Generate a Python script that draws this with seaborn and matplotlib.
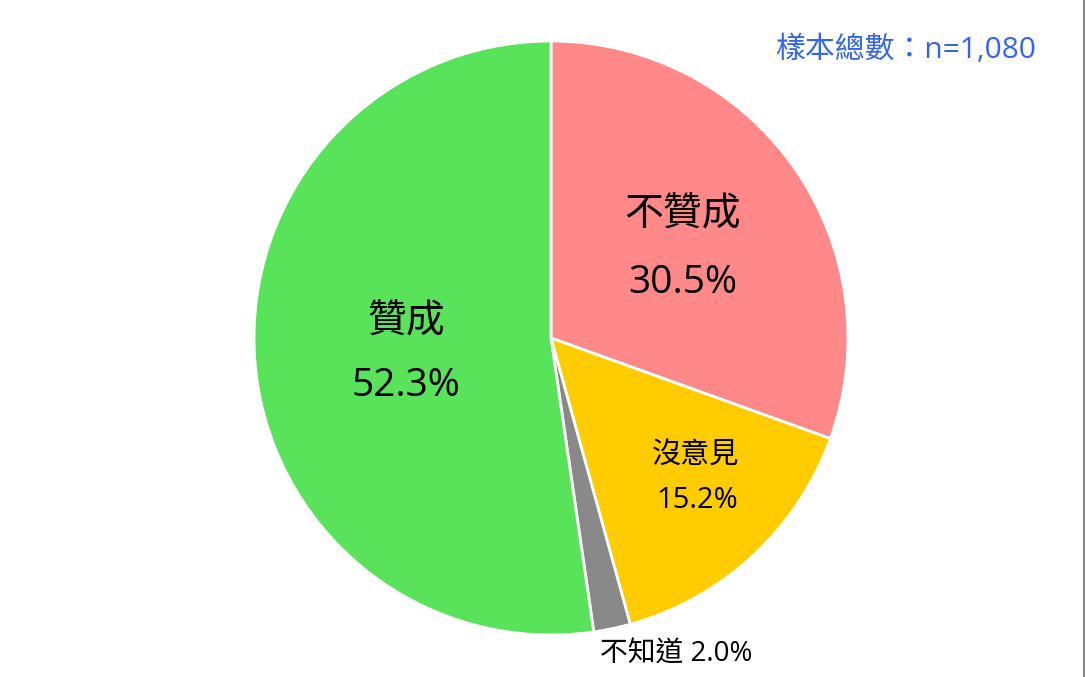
import matplotlib
matplotlib.use("Agg")
import matplotlib.pyplot as plt
import seaborn as sns

# ---- Style ----
sns.set_theme(style="white")
plt.rcParams["font.family"] = ["Open Sans", "Noto Sans CJK TC", "DejaVu Sans"]

# ---- Data (clockwise from 12 o'clock) ----
labels = ["不贊成", "沒意見", "不知道", "贊成"]
shares = [30.5, 15.2, 2.0, 52.3]
colors = ["#FF8888", "#FFCC00", "#898989", "#58E35A"]
sample_note = "樣本總數：n=1,080"

fig = plt.figure(figsize=(10.86, 6.77), dpi=100)
ax = fig.add_axes([0, 0, 1, 1])

center = (551, 677 - 338)
radius = 297

ax.pie(
    shares,
    colors=colors,
    startangle=90,
    counterclock=False,
    center=center,
    radius=radius,
    wedgeprops={"edgecolor": "white", "linewidth": 2},
    frame=True,
)
ax.set_xlim(0, 1086)
ax.set_ylim(0, 677)
ax.set_aspect("equal")
ax.axis("off")

# ---- Labels ----
def y(px):
    return 677 - px

big = 28
small = 21
ax.text(683, y(215), labels[0], ha="center", va="center", fontsize=big, color="black")
ax.text(683, y(283), f"{shares[0]}%", ha="center", va="center", fontsize=big, color="black")
ax.text(406, y(322), labels[3], ha="center", va="center", fontsize=big, color="black")
ax.text(406, y(386), f"{shares[3]}%", ha="center", va="center", fontsize=big, color="black")
ax.text(696, y(455), labels[1], ha="center", va="center", fontsize=small, color="black")
ax.text(697, y(500), f"{shares[1]}%", ha="center", va="center", fontsize=small, color="black")
ax.text(676, y(655), f"{labels[2]} {shares[2]}%", ha="center", va="center", fontsize=20, color="black")

ax.text(1036, y(50), sample_note, ha="right", va="center", fontsize=21.5, color="#3366EE")

# right-hand border line
ax.plot([1084, 1084], [0, 677], color="#888888", linewidth=1.5)

fig.savefig("out.png", dpi=100)
